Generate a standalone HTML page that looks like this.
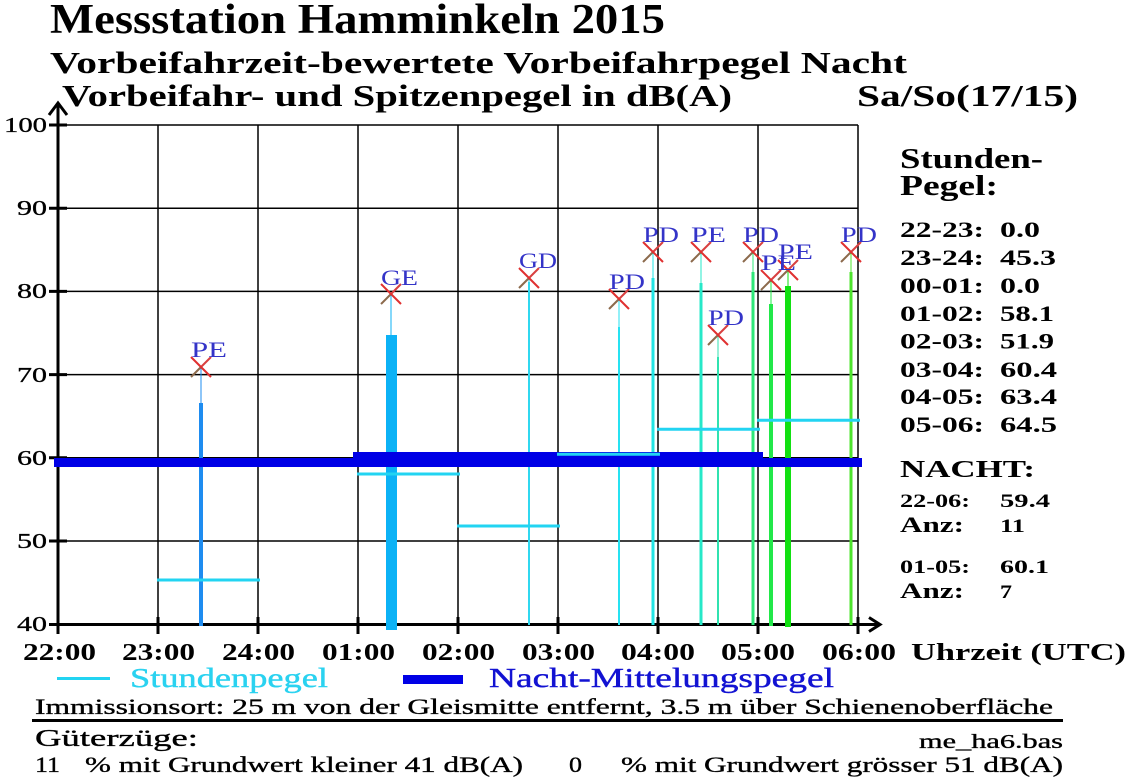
<!DOCTYPE html>
<html><head><meta charset="utf-8"><style>
html,body{margin:0;padding:0;background:#fff;}
svg{display:block;}
text{font-family:"Liberation Serif",serif;}
</style></head><body>
<svg width="1136" height="784" viewBox="0 0 1136 784" xmlns="http://www.w3.org/2000/svg">
<rect width="1136" height="784" fill="#fff"/>
<!-- Titles -->
<g font-weight="bold" fill="#000">
<text x="50" y="33" font-size="42" textLength="615" lengthAdjust="spacingAndGlyphs">Messstation Hamminkeln 2015</text>
<text x="50" y="73" font-size="31" textLength="857" lengthAdjust="spacingAndGlyphs">Vorbeifahrzeit-bewertete Vorbeifahrpegel Nacht</text>
<text x="62" y="106" font-size="31" textLength="670" lengthAdjust="spacingAndGlyphs">Vorbeifahr- und Spitzenpegel in dB(A)</text>
<text x="857" y="106" font-size="31" textLength="221" lengthAdjust="spacingAndGlyphs">Sa/So(17/15)</text>
</g>
<!-- Grid -->
<g stroke="#000" stroke-width="1.5" fill="none">
<line x1="58" y1="125" x2="858" y2="125"/>
<line x1="58" y1="208.2" x2="858" y2="208.2"/>
<line x1="58" y1="291.4" x2="858" y2="291.4"/>
<line x1="58" y1="374.6" x2="858" y2="374.6"/>
<line x1="58" y1="457.8" x2="858" y2="457.8"/>
<line x1="58" y1="541" x2="858" y2="541"/>
<line x1="158" y1="125" x2="158" y2="624"/>
<line x1="258" y1="125" x2="258" y2="624"/>
<line x1="358" y1="125" x2="358" y2="624"/>
<line x1="458" y1="125" x2="458" y2="624"/>
<line x1="558" y1="125" x2="558" y2="624"/>
<line x1="658" y1="125" x2="658" y2="624"/>
<line x1="758" y1="125" x2="758" y2="624"/>
<line x1="858" y1="125" x2="858" y2="624"/>
</g>
<!-- Axes -->
<g stroke="#000" stroke-width="3" fill="none">
<line x1="58" y1="626" x2="58" y2="103"/>
<polyline points="49,115 58,103 67,115"/>
<line x1="56" y1="624.5" x2="880" y2="624.5"/>
<polyline points="869,617.5 880,624.5 869,631.5"/>
<line x1="49" y1="125" x2="67" y2="125"/>
<line x1="49" y1="208.2" x2="67" y2="208.2"/>
<line x1="49" y1="291.4" x2="67" y2="291.4"/>
<line x1="49" y1="374.6" x2="67" y2="374.6"/>
<line x1="49" y1="457.8" x2="67" y2="457.8"/>
<line x1="49" y1="541" x2="67" y2="541"/>
<line x1="49" y1="624.5" x2="67" y2="624.5"/>
<line x1="58" y1="617" x2="58" y2="634"/>
<line x1="158" y1="617" x2="158" y2="634"/>
<line x1="258" y1="617" x2="258" y2="634"/>
<line x1="358" y1="617" x2="358" y2="634"/>
<line x1="458" y1="617" x2="458" y2="634"/>
<line x1="558" y1="617" x2="558" y2="634"/>
<line x1="658" y1="617" x2="658" y2="634"/>
<line x1="758" y1="617" x2="758" y2="634"/>
<line x1="858" y1="617" x2="858" y2="634"/>
</g>
<!-- Y labels -->
<g font-size="21" fill="#000" stroke="#000" stroke-width="0.3" text-anchor="end">
<text x="47" y="132" textLength="43" lengthAdjust="spacingAndGlyphs">100</text>
<text x="47" y="215" textLength="30" lengthAdjust="spacingAndGlyphs">90</text>
<text x="47" y="298" textLength="30" lengthAdjust="spacingAndGlyphs">80</text>
<text x="47" y="382" textLength="30" lengthAdjust="spacingAndGlyphs">70</text>
<text x="47" y="465" textLength="30" lengthAdjust="spacingAndGlyphs">60</text>
<text x="47" y="548" textLength="30" lengthAdjust="spacingAndGlyphs">50</text>
<text x="47" y="631" textLength="30" lengthAdjust="spacingAndGlyphs">40</text>
</g>
<!-- X labels -->
<g font-size="24" font-weight="bold" fill="#000">
<text x="23" y="660" textLength="73" lengthAdjust="spacingAndGlyphs">22:00</text>
<text x="122" y="660" textLength="73" lengthAdjust="spacingAndGlyphs">23:00</text>
<text x="222" y="660" textLength="73" lengthAdjust="spacingAndGlyphs">24:00</text>
<text x="322" y="660" textLength="73" lengthAdjust="spacingAndGlyphs">01:00</text>
<text x="422" y="660" textLength="73" lengthAdjust="spacingAndGlyphs">02:00</text>
<text x="522" y="660" textLength="73" lengthAdjust="spacingAndGlyphs">03:00</text>
<text x="621" y="660" textLength="74" lengthAdjust="spacingAndGlyphs">04:00</text>
<text x="721" y="660" textLength="74" lengthAdjust="spacingAndGlyphs">05:00</text>
<text x="822" y="660" textLength="74" lengthAdjust="spacingAndGlyphs">06:00</text>
<text x="911" y="660" textLength="215" lengthAdjust="spacingAndGlyphs">Uhrzeit (UTC)</text>
</g>
<!-- Event bars -->
<g>
<rect x="199" y="403" width="4" height="223" fill="#1e8cf0"/><line x1="201" y1="367" x2="201" y2="403" stroke="#1e8cf0" stroke-width="1"/>
<rect x="386" y="335" width="11" height="295" fill="#0cb2f6"/><line x1="391" y1="294" x2="391" y2="335" stroke="#0cb2f6" stroke-width="1"/>
<rect x="528" y="282" width="2" height="343" fill="#30d8f0"/><line x1="529" y1="278" x2="529" y2="282" stroke="#30d8f0" stroke-width="1"/>
<rect x="618" y="327" width="2" height="298" fill="#26e2f2"/><line x1="619" y1="299" x2="619" y2="327" stroke="#26e2f2" stroke-width="1"/>
<rect x="651.5" y="278" width="3" height="347" fill="#22e4e4"/><line x1="653" y1="252" x2="653" y2="278" stroke="#22e4e4" stroke-width="1"/>
<rect x="699.5" y="283" width="3" height="342" fill="#26e8c8"/><line x1="701" y1="252" x2="701" y2="283" stroke="#26e8c8" stroke-width="1"/>
<rect x="717" y="357" width="2" height="268" fill="#30e2b0"/><line x1="718" y1="335" x2="718" y2="357" stroke="#30e2b0" stroke-width="1"/>
<rect x="751.5" y="272" width="3" height="353" fill="#2ee878"/><line x1="753" y1="252" x2="753" y2="272" stroke="#2ee878" stroke-width="1"/>
<rect x="769" y="304" width="4" height="322" fill="#22e84a"/><line x1="771" y1="280" x2="771" y2="304" stroke="#22e84a" stroke-width="1"/>
<rect x="785" y="286" width="6" height="341" fill="#12e012"/><line x1="788" y1="270" x2="788" y2="286" stroke="#12e012" stroke-width="1"/>
<rect x="849.5" y="272" width="3" height="353" fill="#4ee42e"/><line x1="851" y1="252" x2="851" y2="272" stroke="#4ee42e" stroke-width="1"/>
</g>
<!-- Nacht-Mittelungspegel -->
<rect x="54" y="458" width="808" height="9" fill="#0000e6"/>
<rect x="353" y="452" width="410" height="15" fill="#0000e6"/>
<!-- Stundenpegel -->
<g stroke="#22d4f2" stroke-width="3">
<line x1="157" y1="580" x2="260" y2="580"/>
<line x1="357" y1="474" x2="460" y2="474"/>
<line x1="457" y1="526" x2="560" y2="526"/>
<line x1="557" y1="454.3" x2="660" y2="454.3"/>
<line x1="657" y1="429.3" x2="760" y2="429.3"/>
<line x1="757" y1="420.3" x2="860" y2="420.3"/>
</g>
<!-- Markers -->
<g stroke-width="2">
<g transform="translate(201,367)"><line x1="-10" y1="10" x2="0" y2="0" stroke="#8c6a4c"/><line x1="0" y1="0" x2="10" y2="-10" stroke="#d84040"/><line x1="-10" y1="-10" x2="10" y2="10" stroke="#e03030"/></g>
<g transform="translate(391,294)"><line x1="-10" y1="10" x2="0" y2="0" stroke="#8c6a4c"/><line x1="0" y1="0" x2="10" y2="-10" stroke="#d84040"/><line x1="-10" y1="-10" x2="10" y2="10" stroke="#e03030"/></g>
<g transform="translate(529,278)"><line x1="-10" y1="10" x2="0" y2="0" stroke="#8c6a4c"/><line x1="0" y1="0" x2="10" y2="-10" stroke="#d84040"/><line x1="-10" y1="-10" x2="10" y2="10" stroke="#e03030"/></g>
<g transform="translate(619,299)"><line x1="-10" y1="10" x2="0" y2="0" stroke="#8c6a4c"/><line x1="0" y1="0" x2="10" y2="-10" stroke="#d84040"/><line x1="-10" y1="-10" x2="10" y2="10" stroke="#e03030"/></g>
<g transform="translate(653,252)"><line x1="-10" y1="10" x2="0" y2="0" stroke="#8c6a4c"/><line x1="0" y1="0" x2="10" y2="-10" stroke="#d84040"/><line x1="-10" y1="-10" x2="10" y2="10" stroke="#e03030"/></g>
<g transform="translate(701,252)"><line x1="-10" y1="10" x2="0" y2="0" stroke="#8c6a4c"/><line x1="0" y1="0" x2="10" y2="-10" stroke="#d84040"/><line x1="-10" y1="-10" x2="10" y2="10" stroke="#e03030"/></g>
<g transform="translate(718,335)"><line x1="-10" y1="10" x2="0" y2="0" stroke="#8c6a4c"/><line x1="0" y1="0" x2="10" y2="-10" stroke="#d84040"/><line x1="-10" y1="-10" x2="10" y2="10" stroke="#e03030"/></g>
<g transform="translate(753,252)"><line x1="-10" y1="10" x2="0" y2="0" stroke="#8c6a4c"/><line x1="0" y1="0" x2="10" y2="-10" stroke="#d84040"/><line x1="-10" y1="-10" x2="10" y2="10" stroke="#e03030"/></g>
<g transform="translate(771,280)"><line x1="-10" y1="10" x2="0" y2="0" stroke="#8c6a4c"/><line x1="0" y1="0" x2="10" y2="-10" stroke="#d84040"/><line x1="-10" y1="-10" x2="10" y2="10" stroke="#e03030"/></g>
<g transform="translate(788,270)"><line x1="-10" y1="10" x2="0" y2="0" stroke="#8c6a4c"/><line x1="0" y1="0" x2="10" y2="-10" stroke="#d84040"/><line x1="-10" y1="-10" x2="10" y2="10" stroke="#e03030"/></g>
<g transform="translate(851,252)"><line x1="-10" y1="10" x2="0" y2="0" stroke="#8c6a4c"/><line x1="0" y1="0" x2="10" y2="-10" stroke="#d84040"/><line x1="-10" y1="-10" x2="10" y2="10" stroke="#e03030"/></g>
</g>
<!-- Marker labels -->
<g font-size="22" fill="#3434c8">
<text x="191" y="357" textLength="36" lengthAdjust="spacingAndGlyphs">PE</text>
<text x="381" y="285" textLength="37" lengthAdjust="spacingAndGlyphs">GE</text>
<text x="519" y="268" textLength="38" lengthAdjust="spacingAndGlyphs">GD</text>
<text x="609" y="289" textLength="36" lengthAdjust="spacingAndGlyphs">PD</text>
<text x="643" y="242" textLength="36" lengthAdjust="spacingAndGlyphs">PD</text>
<text x="691" y="242" textLength="35" lengthAdjust="spacingAndGlyphs">PE</text>
<text x="708" y="325" textLength="36" lengthAdjust="spacingAndGlyphs">PD</text>
<text x="743" y="242" textLength="36" lengthAdjust="spacingAndGlyphs">PD</text>
<text x="761" y="270" textLength="35" lengthAdjust="spacingAndGlyphs">PE</text>
<text x="778" y="259" textLength="35" lengthAdjust="spacingAndGlyphs">PE</text>
<text x="841" y="242" textLength="36" lengthAdjust="spacingAndGlyphs">PD</text>
</g>
<!-- Right panel -->
<g font-weight="bold" fill="#000">
<text x="900" y="168" font-size="28" textLength="143" lengthAdjust="spacingAndGlyphs">Stunden-</text>
<text x="900" y="195" font-size="28" textLength="98" lengthAdjust="spacingAndGlyphs">Pegel:</text>
<g font-size="22">
<text x="900" y="237" textLength="84" lengthAdjust="spacingAndGlyphs">22-23:</text><text x="1000" y="237" textLength="40" lengthAdjust="spacingAndGlyphs">0.0</text>
<text x="900" y="265" textLength="84" lengthAdjust="spacingAndGlyphs">23-24:</text><text x="1000" y="265" textLength="56" lengthAdjust="spacingAndGlyphs">45.3</text>
<text x="900" y="293" textLength="84" lengthAdjust="spacingAndGlyphs">00-01:</text><text x="1000" y="293" textLength="40" lengthAdjust="spacingAndGlyphs">0.0</text>
<text x="900" y="321" textLength="84" lengthAdjust="spacingAndGlyphs">01-02:</text><text x="1000" y="321" textLength="54" lengthAdjust="spacingAndGlyphs">58.1</text>
<text x="900" y="348.5" textLength="84" lengthAdjust="spacingAndGlyphs">02-03:</text><text x="1000" y="348.5" textLength="54" lengthAdjust="spacingAndGlyphs">51.9</text>
<text x="900" y="377" textLength="84" lengthAdjust="spacingAndGlyphs">03-04:</text><text x="1000" y="377" textLength="57" lengthAdjust="spacingAndGlyphs">60.4</text>
<text x="900" y="404" textLength="84" lengthAdjust="spacingAndGlyphs">04-05:</text><text x="1000" y="404" textLength="57" lengthAdjust="spacingAndGlyphs">63.4</text>
<text x="900" y="432" textLength="84" lengthAdjust="spacingAndGlyphs">05-06:</text><text x="1000" y="432" textLength="57" lengthAdjust="spacingAndGlyphs">64.5</text>
</g>
<text x="900" y="477" font-size="24" textLength="135" lengthAdjust="spacingAndGlyphs">NACHT:</text>
<text x="900" y="507" font-size="19" textLength="70" lengthAdjust="spacingAndGlyphs">22-06:</text><text x="1000" y="507" font-size="19" textLength="50" lengthAdjust="spacingAndGlyphs">59.4</text>
<text x="900" y="532" font-size="22" textLength="64" lengthAdjust="spacingAndGlyphs">Anz:</text><text x="1000" y="532" font-size="19" textLength="25" lengthAdjust="spacingAndGlyphs">11</text>
<text x="900" y="573" font-size="19" textLength="70" lengthAdjust="spacingAndGlyphs">01-05:</text><text x="1000" y="573" font-size="19" textLength="49" lengthAdjust="spacingAndGlyphs">60.1</text>
<text x="900" y="598" font-size="22" textLength="64" lengthAdjust="spacingAndGlyphs">Anz:</text><text x="1000" y="598" font-size="19" textLength="12" lengthAdjust="spacingAndGlyphs">7</text>
</g>
<!-- Legend -->
<line x1="57" y1="678.5" x2="110" y2="678.5" stroke="#22d4f2" stroke-width="3"/>
<text x="130" y="687" font-size="27" fill="#2ad2f0" stroke="#2ad2f0" stroke-width="0.4" textLength="198" lengthAdjust="spacingAndGlyphs">Stundenpegel</text>
<rect x="403" y="675" width="60" height="9" fill="#0000e6"/>
<text x="489" y="687" font-size="27" fill="#1212d2" stroke="#1212d2" stroke-width="0.4" textLength="345" lengthAdjust="spacingAndGlyphs">Nacht-Mittelungspegel</text>
<!-- Bottom info -->
<g fill="#000" stroke="#000" stroke-width="0.35">
<text x="35" y="714" font-size="22" textLength="1018" lengthAdjust="spacingAndGlyphs">Immissionsort: 25 m von der Gleismitte entfernt, 3.5 m über Schienenoberfläche</text>
<text x="35" y="746" font-size="24" textLength="163" lengthAdjust="spacingAndGlyphs">Güterzüge:</text>
<text x="919" y="748" font-size="20" textLength="144" lengthAdjust="spacingAndGlyphs">me_ha6.bas</text>
<text x="35" y="772" font-size="22" textLength="25" lengthAdjust="spacingAndGlyphs">11</text>
<text x="85" y="772" font-size="22" textLength="438" lengthAdjust="spacingAndGlyphs">% mit Grundwert kleiner 41 dB(A)</text>
<text x="569" y="772" font-size="22" textLength="13" lengthAdjust="spacingAndGlyphs">0</text>
<text x="621" y="772" font-size="22" textLength="442" lengthAdjust="spacingAndGlyphs">% mit Grundwert grösser 51 dB(A)</text>
</g>
<rect x="32" y="719" width="1031" height="3" fill="#000"/>
</svg>
</body></html>
